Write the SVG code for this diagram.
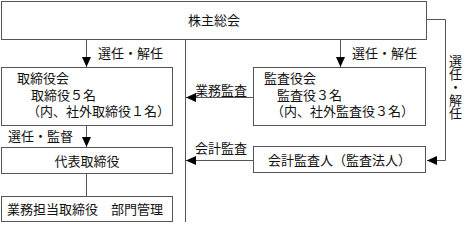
<svg xmlns="http://www.w3.org/2000/svg" width="466" height="231" viewBox="0 0 466 231">
<style>
.box{fill:#fff;stroke:#555;stroke-width:1}
.ln{fill:none;stroke:#555;stroke-width:1}
text{font-family:"Noto Sans CJK JP","Noto Sans CJK SC",sans-serif;font-size:13px;fill:#111}
.c{text-anchor:middle}
.v{writing-mode:vertical-rl;text-anchor:start}
</style>
<defs>
<marker id="ah" markerUnits="userSpaceOnUse" markerWidth="10" markerHeight="10" viewBox="0 0 10 10" refX="10" refY="5" orient="auto">
<path d="M0,0.5 L10,5 L0,9.5 Z" fill="#000"/>
</marker>
</defs>
<rect width="466" height="231" fill="#fff"/>
<g id="connectors">
<path class="ln" d="M86.5,40 V67" marker-end="url(#ah)"/>
<path class="ln" d="M340.5,40 V67" marker-end="url(#ah)"/>
<path class="ln" d="M185.5,40 V222"/>
<path class="ln" d="M253,97.5 H186" marker-end="url(#ah)"/>
<path class="ln" d="M253,160.5 H186" marker-end="url(#ah)"/>
<path class="ln" d="M427,19.5 H445.5 V153 V160.5 H427" marker-end="url(#ah)"/>
<path class="ln" d="M86.5,126 V147" marker-end="url(#ah)"/>
<path class="ln" d="M86.5,173 V196"/>
<text x="98" y="58">選任・解任</text>
<text x="352" y="58">選任・解任</text>
<text x="195" y="95">業務監査</text>
<text x="195" y="153">会計監査</text>
<text x="8" y="141">選任・監督</text>
<text x="455.5" y="55" class="v">選任・解任</text>
</g>
<g id="shareholders">
<rect class="box" x="1.5" y="1.5" width="425" height="38"/>
<text x="214" y="25" class="c">株主総会</text>
</g>
<g id="board">
<rect class="box" x="1.5" y="67.5" width="171" height="58"/>
<text x="17" y="83">取締役会</text>
<text x="31" y="100">取締役５名</text>
<text x="27" y="116">（内、社外取締役１名）</text>
</g>
<g id="auditors">
<rect class="box" x="253.5" y="67.5" width="172" height="58"/>
<text x="264" y="83">監査役会</text>
<text x="277" y="100">監査役３名</text>
<text x="271" y="116">（内、社外監査役３名）</text>
</g>
<g id="representative">
<rect class="box" x="1.5" y="147.5" width="171" height="26"/>
<text x="87" y="165.5" class="c">代表取締役</text>
</g>
<g id="accounting-auditor">
<rect class="box" x="253.5" y="146.5" width="172" height="26"/>
<text x="339.5" y="164.5" class="c">会計監査人（監査法人）</text>
</g>
<g id="executive">
<rect class="box" x="1.5" y="196.5" width="171" height="25"/>
<text x="7" y="214">業務担当取締役　部門管理</text>
</g>
</svg>
